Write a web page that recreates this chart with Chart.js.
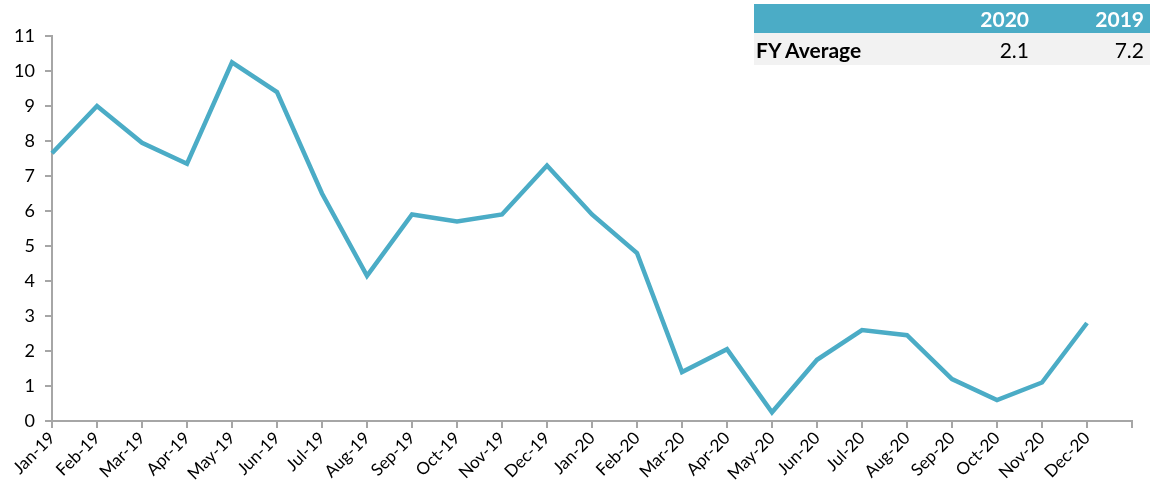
<!DOCTYPE html>
<html>
<head>
<meta charset="utf-8">
<script src="https://cdn.jsdelivr.net/npm/chart.js@4"></script>
<style>
  body { margin: 0; background: #fff; font-family: Lato, sans-serif; }
  #wrap { position: relative; width: 1153px; height: 495px; }
  #fy-table { position: absolute; left: 754px; top: 4px; width: 396px; border-collapse: collapse; font-size: 21px; }
  #fy-table th { background: #4bacc6; color: #fff; font-weight: bold; text-align: right; height: 29px; padding: 0 6px 0 0; }
  #fy-table td { background: #f2f2f2; color: #000; text-align: right; height: 32px; padding: 0 6px 0 0; }
  #fy-table td.lbl { text-align: left; font-weight: bold; padding-left: 2px; }
</style>
</head>
<body>
<div id="wrap">
  <canvas id="chart" width="1153" height="495"></canvas>
  <table id="fy-table"></table>
</div>
<script>
const months = ['Jan-19', 'Feb-19', 'Mar-19', 'Apr-19', 'May-19', 'Jun-19', 'Jul-19', 'Aug-19', 'Sep-19', 'Oct-19', 'Nov-19', 'Dec-19',
                'Jan-20', 'Feb-20', 'Mar-20', 'Apr-20', 'May-20', 'Jun-20', 'Jul-20', 'Aug-20', 'Sep-20', 'Oct-20', 'Nov-20', 'Dec-20']
const values = [7.65, 9.0, 7.95, 7.35, 10.25, 9.4, 6.5, 4.15, 5.9, 5.7, 5.9, 7.3,
                5.9, 4.8, 1.4, 2.05, 0.25, 1.75, 2.6, 2.45, 1.2, 0.6, 1.1, 2.8]
const yTicks = [0, 1, 2, 3, 4, 5, 6, 7, 8, 9, 10, 11]
const fyYears = ['2020', '2019']
const fyAverage = ['2.1', '7.2']

const LINE_COLOR = '#4bacc6'
const AXIS_COLOR = '#a6a6a6'

// table in the corner
let tbl = document.getElementById('fy-table')
let html = '<tr><th style="width:160px"></th>'
for (let y of fyYears) html += '<th>' + y + '</th>'
html += '</tr><tr><td class="lbl">FY Average</td>'
for (let v of fyAverage) html += '<td>' + v + '</td>'
html += '</tr>'
tbl.innerHTML = html

// one blank label at the end so the axis runs one step past Dec-20
let labels = months.concat([''])

new Chart(document.getElementById('chart'), {
    type: 'line',
    data: {
        labels: labels,
        datasets: [{
            data: values,
            borderColor: LINE_COLOR,
            borderWidth: 4.5,
            pointRadius: 0,
            tension: 0,
            fill: false
        }]
    },
    options: {
        responsive: false,
        animation: false,
        layout: { padding: { top: 36, right: 21, left: 0, bottom: 0 } },
        plugins: { legend: { display: false }, tooltip: { enabled: false } },
        scales: {
            x: {
                offset: false,
                grid: { drawOnChartArea: false, drawTicks: true, tickLength: 7, color: AXIS_COLOR, lineWidth: 2 },
                border: { color: AXIS_COLOR, width: 2 },
                ticks: { color: '#000', font: { family: 'Lato', size: 17 }, minRotation: 45, maxRotation: 45, autoSkip: false, padding: 0 },
                afterFit: (scale) => { scale.height = 74 }
            },
            y: {
                min: 0,
                max: 11,
                afterBuildTicks: (scale) => { scale.ticks = yTicks.map(v => ({ value: v })) },
                grid: { drawOnChartArea: false, drawTicks: true, tickLength: 7, color: AXIS_COLOR, lineWidth: 2 },
                border: { color: AXIS_COLOR, width: 2 },
                ticks: { color: '#000', font: { family: 'Lato', size: 18 }, padding: 10 },
                afterFit: (scale) => { scale.width = 52 }
            }
        }
    }
})
</script>
</body>
</html>
